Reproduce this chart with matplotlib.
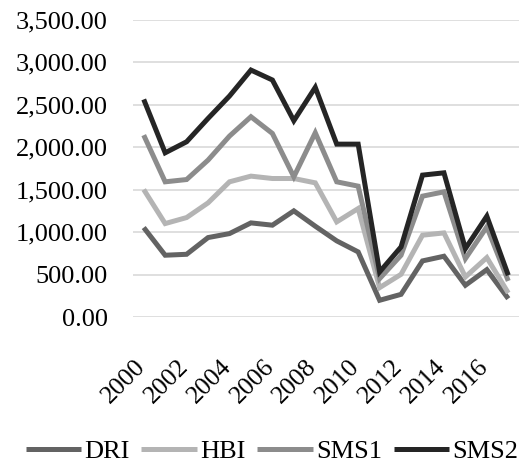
import matplotlib
matplotlib.use("Agg")
import matplotlib.pyplot as plt
import matplotlib.transforms as mtransforms
from matplotlib.ticker import FuncFormatter

years = list(range(2000, 2018))
dri = [1054, 728, 739, 936, 983, 1109, 1082, 1251, 1070, 897, 767, 197, 267, 661, 716, 374, 558, 216]
hbi = [1502, 1101, 1172, 1345, 1593, 1660, 1632, 1632, 1581, 1121, 1278, 346, 503, 964, 991, 472, 700, 283]
sms1 = [2143, 1593, 1620, 1849, 2132, 2360, 2163, 1652, 2171, 1593, 1542, 452, 728, 1424, 1475, 688, 1062, 425]
sms2 = [2564, 1935, 2065, 2340, 2604, 2910, 2793, 2313, 2706, 2037, 2037, 531, 826, 1672, 1699, 806, 1188, 492]
series_names = ["DRI", "HBI", "SMS1", "SMS2"]
series_colors = ["#636363", "#b4b4b4", "#8c8c8c", "#252525"]
y_ticks = [0, 500, 1000, 1500, 2000, 2500, 3000, 3500]

plt.rcParams['font.family'] = ['Liberation Serif', 'DejaVu Serif']

fig = plt.figure(figsize=(5.21, 4.67), dpi=100)
ax = fig.add_axes([133/521, 1 - 317/467, 386/521, 297/467])

x = list(range(len(years)))
for vals, name, col in zip([dri, hbi, sms1, sms2], series_names, series_colors):
    ax.plot(x, vals, color=col, lw=3.6, label=name, solid_joinstyle='miter', solid_capstyle='butt')

ax.set_xlim(-0.5, len(years) - 0.5)
ax.set_ylim(0, 3500)
ax.set_yticks(y_ticks)
ax.yaxis.set_major_formatter(FuncFormatter(lambda v, p: f"{v:,.2f}"))
ax.grid(axis='y', color='#d9d9d9', lw=1.2)
ax.set_axisbelow(True)
for s in ax.spines.values():
    s.set_visible(False)

ax.set_xticks(x[::2])
ax.set_xticklabels([str(y) for y in years[::2]])
ax.tick_params(axis='y', length=0, pad=18, labelsize=19, colors='black')
ax.tick_params(axis='x', length=0, pad=28, labelsize=18.5, colors='black')
offset = mtransforms.ScaledTranslation(6/100, 0, fig.dpi_scale_trans)
for lbl in ax.get_xticklabels():
    lbl.set_rotation(45)
    lbl.set_ha('right')
    lbl.set_va('top')
    lbl.set_transform(lbl.get_transform() + offset)

leg = fig.legend(loc='center', bbox_to_anchor=(272/521, 1 - 451/467), ncol=4,
                 frameon=False, fontsize=19, handlelength=2.1, handletextpad=0.12,
                 columnspacing=0.45, borderpad=0, borderaxespad=0)

fig.savefig("out.png", dpi=100)
